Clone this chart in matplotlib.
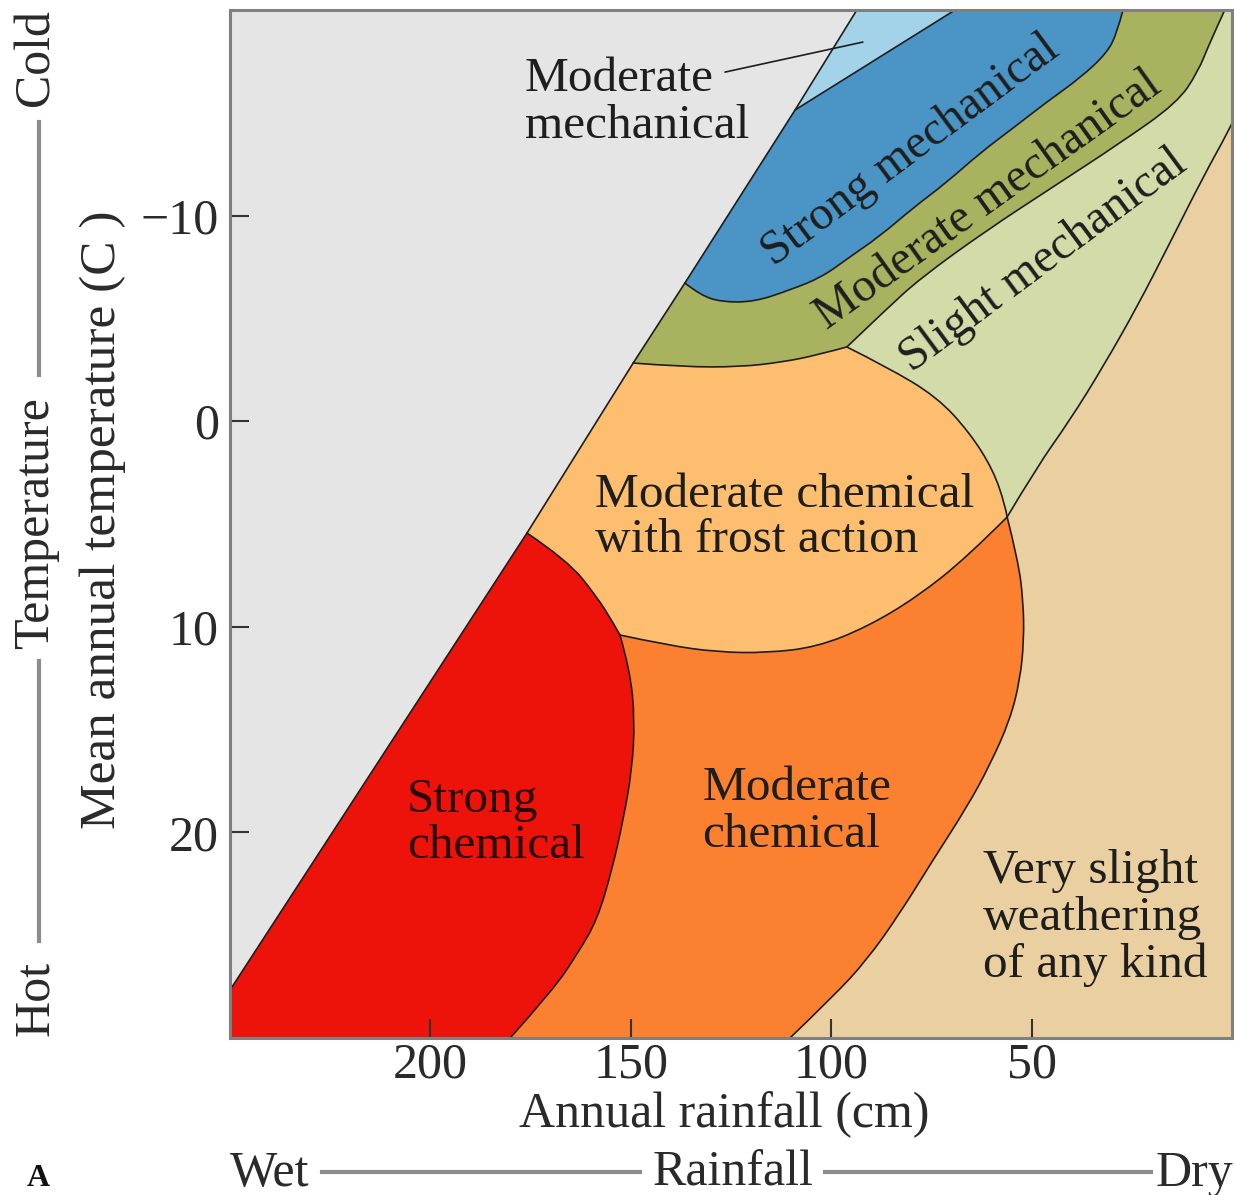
import matplotlib
matplotlib.use("Agg")
import matplotlib.pyplot as plt
from matplotlib.path import Path
from matplotlib.patches import PathPatch
from matplotlib.lines import Line2D

plt.rcParams['font.family'] = ['Liberation Serif', 'DejaVu Serif']

# ---------------- data (rainfall in cm, temperature in C) ----------------
rain_lim = (250, 0)
temp_lim = (-20, 30)
x_ticks = [200, 150, 100, 50]
x_tick_labels = ["200", "150", "100", "50"]
y_ticks = [-10, 0, 10, 20]
y_tick_labels = ["\u221210", "0", "10", "20"]

# zone boundaries, as (rainfall, temperature) pairs
diag = [(93.6, -20.0), (109.0, -15.14), (136.5, -6.72), (149.4, -2.83),
        (175.9, 5.44), (250.0, 27.67)]
lightblue_edge = [(69.1, -20.0), (109.0, -15.14)]
blue_edge = [(27.2, -20.0), (28.7, -18.88), (31.2, -17.91), (37.9, -16.69),
             (46.2, -15.53), (54.6, -14.26), (62.9, -13.04), (71.1, -11.63),
             (79.6, -10.37), (87.8, -9.01), (96.0, -7.90), (102.3, -7.01),
             (110.3, -6.38), (119.3, -5.80), (127.5, -5.80), (132.7, -6.14),
             (136.5, -6.72)]
green_bottom = [(149.4, -2.83), (137.0, -2.64), (122.8, -2.64), (112.0, -2.88),
                (103.5, -3.22), (96.1, -3.61)]
green_right = [(96.1, -3.61), (86.5, -5.40), (77.8, -6.95), (61.1, -9.30),
               (44.7, -11.39), (27.9, -13.53), (13.7, -15.48), (8.5, -16.98),
               (5.5, -18.44), (1.8, -20.0)]
tan_top = [(0.0, -14.50), (1.0, -14.07), (7.2, -11.88), (15.5, -8.67),
           (23.7, -5.55), (32.2, -2.64), (40.4, -0.06), (48.7, 2.23),
           (56.1, 4.66)]
frost_topright = [(96.1, -3.61), (86.1, -2.64), (73.6, -1.18), (65.4, 0.57),
                  (59.6, 2.37), (56.6, 4.08), (56.1, 4.66)]
frost_bottom = [(56.1, 4.66), (66.1, 6.61), (78.6, 8.55), (91.1, 10.01),
                (103.5, 10.98), (116.0, 11.27), (128.5, 11.23), (141.0, 10.89),
                (152.7, 10.40)]
red_frost = [(175.9, 5.44), (165.9, 6.75), (158.4, 8.55), (154.4, 9.81),
             (152.7, 10.40)]
red_orange = [(152.7, 10.40), (150.2, 12.10), (149.0, 14.53), (149.7, 16.96),
              (151.9, 19.40), (154.7, 21.83), (158.4, 24.26), (163.2, 25.87),
              (169.4, 27.67), (180.1, 30.0)]
orange_tan = [(56.1, 4.66), (53.4, 6.75), (52.1, 8.70), (51.9, 10.64),
              (52.9, 12.59), (55.4, 14.53), (60.4, 16.72), (66.1, 18.76),
              (74.6, 21.34), (82.8, 23.92), (91.1, 26.21), (99.6, 28.00),
              (110.3, 30.0)]
leader = [(126.5, -16.98), (92.1, -18.44)]

zone_colors = {
    "gray": "#e5e5e5", "lightblue": "#a3d3e8", "blue": "#4a95c6",
    "olive": "#a9b25f", "lightgreen": "#d3dba9", "frost": "#fdbf6f",
    "red": "#ed130b", "orange": "#fb8131", "tan": "#eacfa0",
}


# ---------------- path helpers (smooth boundaries drawn by matplotlib) ----------------
def piece_codes(pts, smooth):
    n = len(pts)
    if not smooth or n <= 2:
        return list(pts[1:]), [Path.LINETO] * (n - 1)
    verts, codes = [], []
    for i in range(1, n - 1):
        if i == n - 2:
            end = pts[n - 1]
        else:
            end = ((pts[i][0] + pts[i + 1][0]) / 2, (pts[i][1] + pts[i + 1][1]) / 2)
        verts += [pts[i], end]
        codes += [Path.CURVE3, Path.CURVE3]
    return verts, codes


def build_path(pieces, closed=True):
    verts = [pieces[0][0][0]]
    codes = [Path.MOVETO]
    for pts, smooth in pieces:
        if tuple(verts[-1]) != tuple(pts[0]):
            verts.append(pts[0])
            codes.append(Path.LINETO)
        v, c = piece_codes(pts, smooth)
        verts += v
        codes += c
    if closed:
        verts.append(verts[0])
        codes.append(Path.CLOSEPOLY)
    return Path(verts, codes)


S, L = True, False
rev = lambda p: p[::-1]
zones = {
    "gray": [([(250.0, -20.0)] + diag, L)],
    "lightblue": [([diag[0], lightblue_edge[0], lightblue_edge[1]], L)],
    "blue": [(rev(lightblue_edge), L), (blue_edge, S), ([diag[2], diag[1]], L)],
    "olive": [(blue_edge, S), ([diag[2], diag[3]], L), (green_bottom, S),
              (green_right, S)],
    "lightgreen": [(green_right, S), ([(1.8, -20.0), (0.0, -20.0), (0.0, -14.5)], L),
                   (tan_top, S), (rev(frost_topright), S)],
    "frost": [(green_bottom, S), (frost_topright, S), (frost_bottom, S),
              (rev(red_frost), S), ([diag[4], diag[3]], L)],
    "red": [(red_frost, S), (red_orange, S),
            ([(180.1, 30.0), (250.0, 30.0), diag[5], diag[4]], L)],
    "orange": [(frost_bottom, S), (red_orange, S), ([(180.1, 30.0), (110.3, 30.0)], L),
               (rev(orange_tan), S)],
    "tan": [(tan_top, S), (orange_tan, S), ([(110.3, 30.0), (0.0, 30.0), (0.0, -14.5)], L)],
}

W, H = 1234, 1195
fig = plt.figure(figsize=(W / 100, H / 100), dpi=100)
ax = fig.add_axes([230 / W, (H - 1038) / H, 1002 / W, 1028 / H])
ax.set_xlim(*rain_lim)
ax.set_ylim(temp_lim[1], temp_lim[0])

for name, pieces in zones.items():
    ax.add_patch(PathPatch(build_path(pieces), facecolor=zone_colors[name],
                           edgecolor=zone_colors[name], lw=0.5, zorder=1))

for curve, smooth in [(diag, L), (lightblue_edge, L), (blue_edge, S), (green_bottom, S),
                      (green_right, S), (tan_top, S), (frost_topright, S),
                      (frost_bottom, S), (red_frost, S), (red_orange, S),
                      (orange_tan, S), (leader, L)]:
    ax.add_patch(PathPatch(build_path([(curve, smooth)], closed=False),
                           facecolor='none', edgecolor='#1e1e1e', lw=1.2,
                           capstyle='round', joinstyle='round', zorder=3))

# ticks & spines
ax.set_xticks(x_ticks)
ax.set_xticklabels(x_tick_labels)
ax.set_yticks(y_ticks)
ax.set_yticklabels(y_tick_labels)
ax.tick_params(direction='in', length=14, width=1.5, color='#333333',
               labelsize=36, labelcolor='#2a2a2a')
ax.tick_params(axis='x', pad=3)
ax.tick_params(axis='y', pad=8)
for sp in ax.spines.values():
    sp.set_color('#808080')
    sp.set_linewidth(2.2)
    sp.set_zorder(5)

ax.set_xlabel("Annual rainfall (cm)", fontsize=36, color='#2a2a2a')
ax.xaxis.set_label_coords((724 - 230) / 1002, (1038 - 1127) / 1028)
ax.xaxis.label.set_va('baseline')
ax.set_ylabel("Mean annual temperature (C )", fontsize=37, color='#2a2a2a')
ax.yaxis.set_label_coords((115 - 230) / 1002, (1038 - 520) / 1028)
ax.yaxis.label.set_va('baseline')

# zone labels
tc = '#1e1e1e'
fs = 35.5
ax.text(176.4, -16.06, "Moderate", fontsize=fs, color=tc, ha='left', va='baseline', zorder=4)
ax.text(176.4, -13.77, "mechanical", fontsize=fs, color=tc, ha='left', va='baseline', zorder=4)
ax.text(158.9, 4.17, "Moderate chemical", fontsize=fs, color=tc, ha='left', va='baseline', zorder=4)
ax.text(158.9, 6.36, "with frost action", fontsize=fs, color=tc, ha='left', va='baseline', zorder=4)
ax.text(205.8, 19.01, "Strong", fontsize=fs, color='#2a0805', ha='left', va='baseline', zorder=4)
ax.text(205.8, 21.25, "chemical", fontsize=fs, color='#2a0805', ha='left', va='baseline', zorder=4)
ax.text(132.2, 18.42, "Moderate", fontsize=fs, color=tc, ha='left', va='baseline', zorder=4)
ax.text(132.2, 20.71, "chemical", fontsize=fs, color=tc, ha='left', va='baseline', zorder=4)
ax.text(62.1, 22.46, "Very slight", fontsize=fs, color=tc, ha='left', va='baseline', zorder=4)
ax.text(62.1, 24.75, "weathering", fontsize=fs, color=tc, ha='left', va='baseline', zorder=4)
ax.text(62.1, 27.03, "of any kind", fontsize=fs, color=tc, ha='left', va='baseline', zorder=4)

rfs = 34.5
ax.text(78.3, -12.70, "Strong mechanical", fontsize=rfs, color=tc, rotation=36.6,
        rotation_mode='anchor', ha='center', va='baseline', zorder=4)
ax.text(59.1, -10.27, "Moderate mechanical", fontsize=rfs, color=tc, rotation=35.5,
        rotation_mode='anchor', ha='center', va='baseline', zorder=4)
ax.text(45.4, -7.35, "Slight mechanical", fontsize=rfs, color=tc, rotation=36.5,
        rotation_mode='anchor', ha='center', va='baseline', zorder=4)


# outer annotations (figure pixel positions)
def fx(px):
    return px / W


def fy(py):
    return 1 - py / H


lc = '#8c8c8c'
oc = '#2a2a2a'
fig.text(fx(48), fy(58), "Cold", fontsize=36, color=oc, rotation=90,
         rotation_mode='anchor', ha='center', va='baseline')
fig.text(fx(48), fy(523), "Temperature", fontsize=36, color=oc, rotation=90,
         rotation_mode='anchor', ha='center', va='baseline')
fig.text(fx(48), fy(998), "Hot", fontsize=36, color=oc, rotation=90,
         rotation_mode='anchor', ha='center', va='baseline')
fig.add_artist(Line2D([fx(39), fx(39)], [fy(122), fy(375)], color=lc, lw=3))
fig.add_artist(Line2D([fx(39), fx(39)], [fy(661), fy(941)], color=lc, lw=3))

fig.text(fx(230), fy(1186), "Wet", fontsize=36, color=oc, ha='left', va='baseline')
fig.text(fx(653), fy(1186), "Rainfall", fontsize=36, color=oc, ha='left', va='baseline')
fig.text(fx(1233), fy(1186), "Dry", fontsize=36, color=oc, ha='right', va='baseline')
fig.add_artist(Line2D([fx(322), fx(640)], [fy(1172), fy(1172)], color=lc, lw=3))
fig.add_artist(Line2D([fx(825), fx(1151)], [fy(1172), fy(1172)], color=lc, lw=3))

fig.text(fx(27), fy(1186), "A", fontsize=23, fontweight='bold', color='#111111',
         ha='left', va='baseline')

fig.savefig("out.png", dpi=100)
